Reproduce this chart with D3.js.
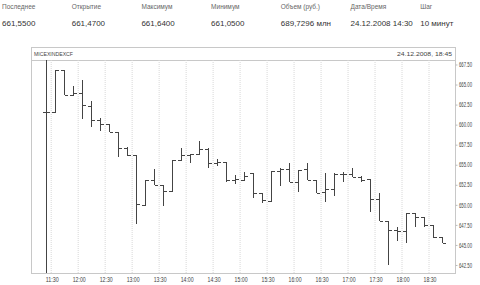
<!DOCTYPE html>
<html lang="ru">
<head>
<meta charset="UTF-8">
<script src="https://d3js.org/d3.v7.min.js"></script>
<style>
body { margin: 0; background: #fff; }
svg { display: block; font-family: "Liberation Sans", Arial, sans-serif; }
.hdr-label { font-size: 6.5px; fill: #666; }
.hdr-value { font-size: 8px; fill: #333; }
.axis text { font-size: 6.8px; fill: #444; }
.axis path { display: none; }
.grid line { stroke: #d8d8d8; stroke-dasharray: 1,1; }
.bar { stroke: #444; stroke-width: 1; fill: none; shape-rendering: crispEdges; }
</style>
</head>
<body>
<svg width="480" height="285"></svg>
<script>
// шапка
const headLabels = ["Последнее", "Открытие", "Максимум", "Минимум", "Объем (руб.)", "Дата/Время", "Шаг"];
const headValues = ["661,5500", "661,4700", "661,6400", "661,0500", "689,7296 млн", "24.12.2008 14:30", "10 минут"];

// 10-минутные бары, время начала интервала
const times = ["11:20","11:30","11:40","11:50","12:00","12:10","12:20","12:30","12:40","12:50",
  "13:00","13:10","13:20","13:30","13:40","13:50","14:00","14:10","14:20","14:30",
  "14:40","14:50","15:00","15:10","15:20","15:30","15:40","15:50","16:00","16:10",
  "16:20","16:30","16:40","16:50","17:00","17:10","17:20","17:30","17:40","17:50",
  "18:00","18:10","18:20","18:30","18:40"];
const open  = [661.6,661.6,666.85,663.75,663.9,662.35,660.6,660.1,659.1,657.1,
  656.2,650.0,653.05,652.5,651.75,655.6,656.2,656.4,656.95,655.2,
  655.4,653.1,653.1,654.0,651.5,650.5,654.25,654.45,652.9,654.45,
  653.1,651.65,651.95,653.85,653.85,653.45,653.2,650.7,648.0,646.8,
  646.75,648.95,648.45,647.5,645.95];
const high  = [668.5,666.85,666.85,664.8,665.6,662.9,660.85,660.1,659.1,657.2,
  656.2,653.05,654.45,652.5,655.65,657.05,656.4,658.0,657.05,655.7,
  655.4,653.7,654.15,654.0,651.5,654.25,654.55,655.2,654.35,655.2,
  653.1,654.0,653.95,654.15,654.55,653.6,653.2,651.45,648.0,647.2,
  649.0,648.95,648.5,647.5,645.95];
const low   = [641.0,661.6,663.7,663.7,660.75,659.65,659.15,659.1,655.95,656.05,
  647.6,650.0,652.45,649.8,651.75,655.6,655.2,656.4,654.55,654.85,
  652.9,652.6,653.1,650.8,650.2,650.5,652.35,652.9,651.65,653.1,
  651.5,650.4,651.1,652.9,653.45,652.9,649.15,648.0,642.5,645.55,
  645.2,647.2,647.2,645.85,645.2];
const close = [661.6,666.85,663.7,663.9,662.5,660.6,660.1,659.1,657.1,656.2,
  650.1,653.05,652.5,651.75,655.65,656.2,656.3,656.95,655.2,655.4,
  653.1,653.2,653.6,651.5,650.6,654.25,654.45,652.9,654.35,653.1,
  651.5,651.95,653.85,653.9,653.5,653.1,650.7,648.0,646.8,646.75,
  648.95,648.45,647.5,645.95,645.2];

const xTicks = ["11:30","12:00","12:30","13:00","13:30","14:00","14:30","15:00",
  "15:30","16:00","16:30","17:00","17:30","18:00","18:30"];
const yTicks = [642.5,645,647.5,650,652.5,655,657.5,660,662.5,665,667.5];

const day = t => { const [h, m] = t.split(":").map(Number); return new Date(2008, 11, 24, h, m); };

const svg = d3.select("svg");
const L = 31, R = 455, T = 60, B = 273, boxTop = 47;

// шапка с параметрами
headLabels.forEach((s, i) => {
  svg.append("text").attr("class", "hdr-label").attr("x", 2 + i * 69.7).attr("y", 9).text(s);
  svg.append("text").attr("class", "hdr-value").attr("x", 2 + i * 69.7).attr("y", 25.5).text(headValues[i]);
});

const x = d3.scaleTime()
  .domain([new Date(2008, 11, 24, 11, 8, 40), day("19:00")])
  .range([L, R]);
const y = d3.scaleLinear().domain([641.5, 668.06]).range([B, T]);

// рамка
svg.append("rect").attr("x", L + 0.5).attr("y", boxTop + 0.5)
  .attr("width", R - L).attr("height", B - boxTop)
  .attr("fill", "none").attr("stroke", "#c8c8c8");
svg.append("line").attr("x1", L).attr("x2", R).attr("y1", T + 0.5).attr("y2", T + 0.5)
  .attr("stroke", "#c8c8c8");

svg.append("text").attr("x", 34).attr("y", 56).attr("font-size", 6).attr("fill", "#444")
  .attr("textLength", 39).attr("lengthAdjust", "spacingAndGlyphs").text("MICEXINDEXCF");
svg.append("text").attr("x", 452).attr("y", 56).attr("font-size", 6).attr("fill", "#444")
  .attr("text-anchor", "end")
  .attr("textLength", 55).attr("lengthAdjust", "spacingAndGlyphs").text("24.12.2008, 18:45");

// вертикальная сетка + подписи времени
const gx = svg.append("g").attr("class", "axis grid")
  .attr("transform", `translate(0.5,${B})`)
  .call(d3.axisBottom(x).tickValues(xTicks.map(day))
    .tickFormat(d3.timeFormat("%H:%M")).tickSize(-(B - T)).tickPadding(4));
gx.selectAll("text").attr("dx", 1)
  .attr("textLength", 13).attr("lengthAdjust", "spacingAndGlyphs");

// правая ось
const gy = svg.append("g").attr("class", "axis")
  .attr("transform", `translate(${R + 0.5},0)`)
  .call(d3.axisRight(y).tickValues(yTicks).tickFormat(d3.format(".2f")).tickSize(2).tickPadding(1.5));
gy.selectAll("line").attr("stroke", "#bbb");
gy.selectAll("text").attr("textLength", 13).attr("lengthAdjust", "spacingAndGlyphs");

// бары OHLC
svg.append("clipPath").attr("id", "plot")
  .append("rect").attr("x", L).attr("y", T).attr("width", R - L).attr("height", B - T);

const half = 5 * 60 * 1000, tick = 3.5;
const bars = svg.append("g").attr("clip-path", "url(#plot)")
  .selectAll("g").data(times).join("g")
  .attr("class", "bar")
  .attr("transform", t => `translate(${Math.round(x(+day(t) + half)) + 0.5},0)`);

bars.append("line").attr("y1", (d, i) => y(high[i])).attr("y2", (d, i) => y(low[i]));
bars.append("line").attr("x1", -tick).attr("x2", 0)
  .attr("y1", (d, i) => Math.round(y(open[i])) + 0.5).attr("y2", (d, i) => Math.round(y(open[i])) + 0.5);
bars.append("line").attr("x1", 0).attr("x2", tick)
  .attr("y1", (d, i) => Math.round(y(close[i])) + 0.5).attr("y2", (d, i) => Math.round(y(close[i])) + 0.5);
</script>
</body>
</html>
